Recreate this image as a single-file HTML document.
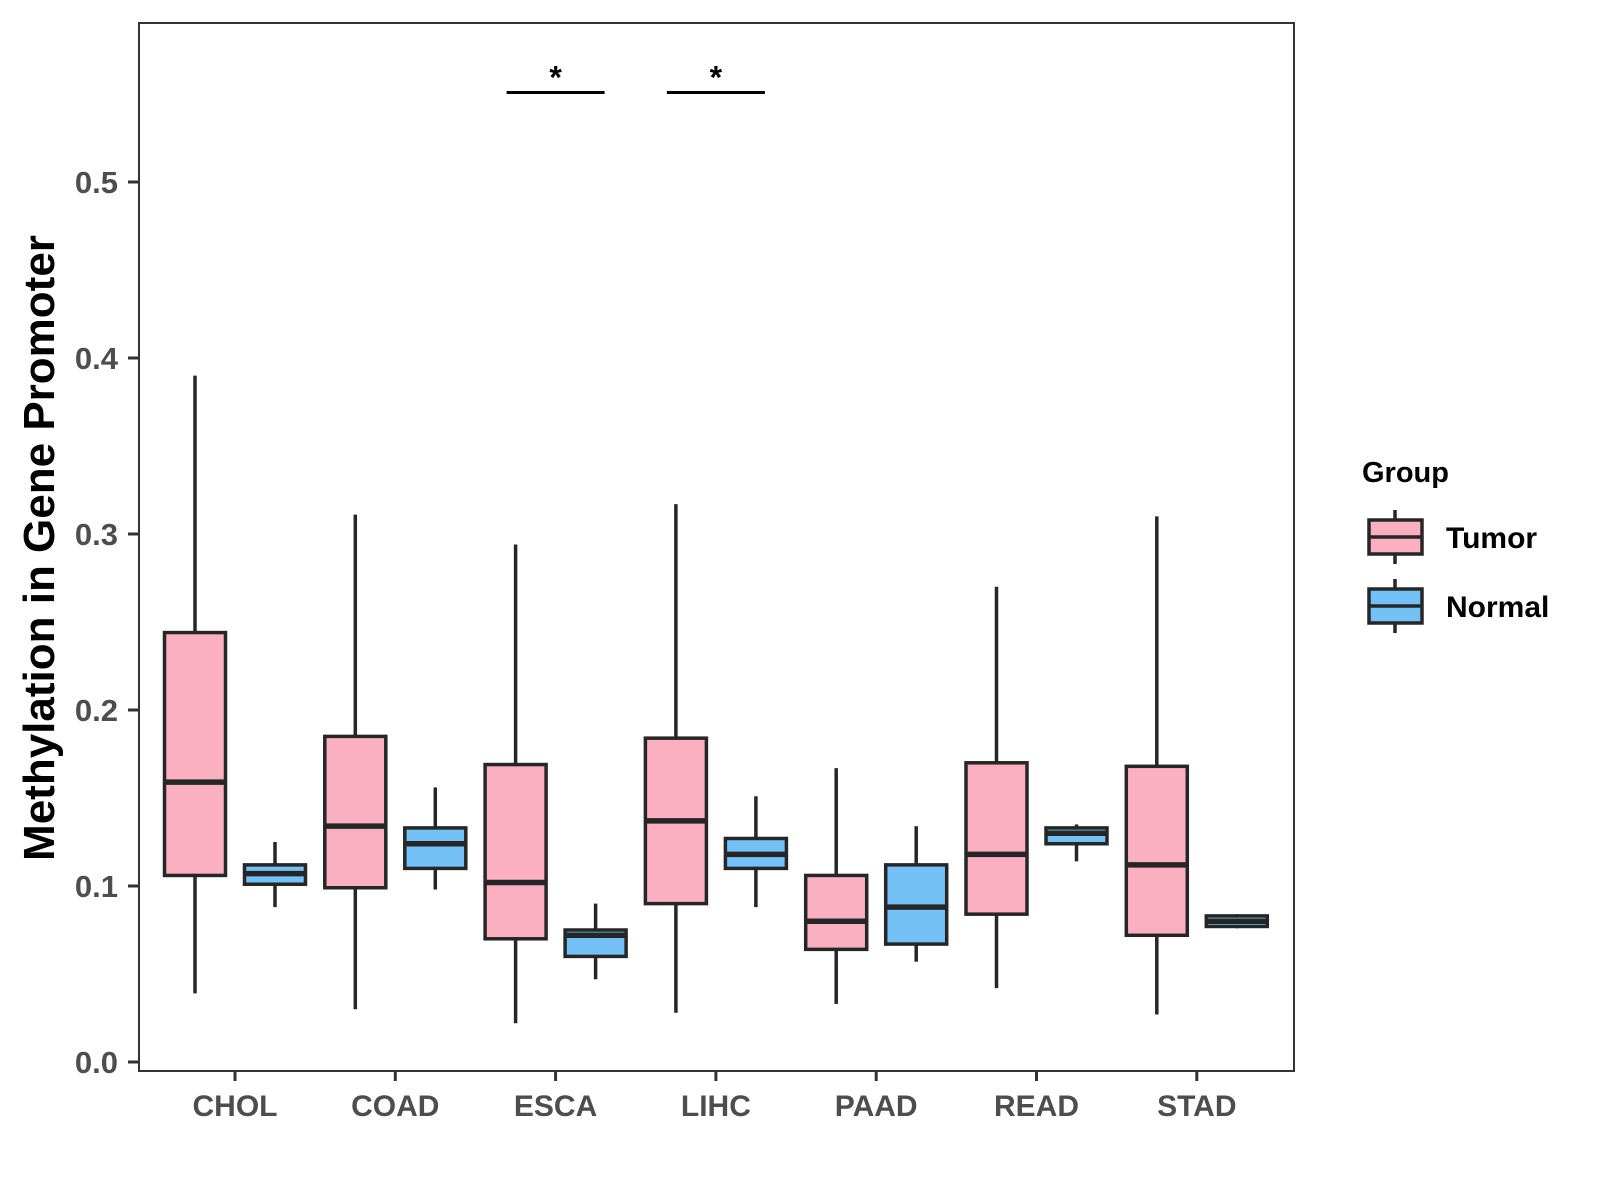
<!DOCTYPE html>
<html><head><meta charset="utf-8"><style>
html,body{margin:0;padding:0;background:#fff}
svg{display:block;font-family:"Liberation Sans",Arial,sans-serif}
</style></head><body>
<svg id="chart" width="1600" height="1200" viewBox="0 0 1600 1200"></svg>
<script>
const categories=["CHOL","COAD","ESCA","LIHC","PAAD","READ","STAD"];
const tumorLow=[0.039,0.030,0.022,0.028,0.033,0.042,0.027];
const tumorQ1=[0.106,0.099,0.070,0.090,0.064,0.084,0.072];
const tumorMed=[0.159,0.134,0.102,0.137,0.080,0.118,0.112];
const tumorQ3=[0.244,0.185,0.169,0.184,0.106,0.170,0.168];
const tumorHigh=[0.390,0.311,0.294,0.317,0.167,0.270,0.310];
const normalLow=[0.088,0.098,0.047,0.088,0.057,0.114,0.076];
const normalQ1=[0.101,0.110,0.060,0.110,0.067,0.124,0.077];
const normalMed=[0.107,0.124,0.072,0.118,0.088,0.130,0.080];
const normalQ3=[0.112,0.133,0.075,0.127,0.112,0.133,0.083];
const normalHigh=[0.125,0.156,0.090,0.151,0.134,0.135,0.084];
const yTicks=[0.0,0.1,0.2,0.3,0.4,0.5];
const sigCats=["ESCA","LIHC"];
const sigLevel=0.552;

const NS="http://www.w3.org/2000/svg";
const svg=document.getElementById('chart');
const PL=139,PR=1294,PT=23,PB=1071;
function yS(v){return 1062-1760*v;}
function xS(i){return 235+160.3*i;}
function mk(tag,attrs,parent){const e=document.createElementNS(NS,tag);for(const k in attrs)e.setAttribute(k,attrs[k]);(parent||svg).appendChild(e);return e;}
const INK="#262626";

const panel=mk('rect',{x:PL,y:PT,width:PR-PL,height:PB-PT,fill:'#fff',stroke:'none'});



yTicks.forEach(t=>{
  const g=mk('g',{});
  
  
  mk('line',{x1:PL-11,x2:PL,y1:yS(t),y2:yS(t),stroke:'#333','stroke-width':3},g);
  const tx=mk('text',{x:PL-21,y:yS(t)+11,'text-anchor':'end','font-size':31,'font-weight':'bold',fill:'#4d4d4d'},g);
  tx.textContent=t.toFixed(1);
});
categories.forEach((c,i)=>{
  const g=mk('g',{});
  
  
  mk('line',{x1:xS(i),x2:xS(i),y1:PB,y2:PB+10,stroke:'#333','stroke-width':3},g);
  const tx=mk('text',{x:xS(i),y:1116,'text-anchor':'middle','font-size':30,'font-weight':'bold',fill:'#4d4d4d'},g);
  tx.textContent=c;
});

function box(cx,lo,q1,md,q3,hi,fill,name){
  const g=mk('g',{});
  
  
  const w=61;
  mk('line',{x1:cx,x2:cx,y1:yS(hi),y2:yS(q3),stroke:INK,'stroke-width':3.5},g);
  mk('line',{x1:cx,x2:cx,y1:yS(q1),y2:yS(lo),stroke:INK,'stroke-width':3.5},g);
  mk('rect',{x:cx-w/2,y:yS(q3),width:w,height:yS(q1)-yS(q3),fill:fill,stroke:INK,'stroke-width':3.5},g);
  mk('line',{x1:cx-w/2,x2:cx+w/2,y1:yS(md),y2:yS(md),stroke:INK,'stroke-width':5.5},g);
}
categories.forEach((c,i)=>{
  box(xS(i)-40,tumorLow[i],tumorQ1[i],tumorMed[i],tumorQ3[i],tumorHigh[i],'#FBB0C2','box-tumor-'+c.toLowerCase());
  box(xS(i)+40,normalLow[i],normalQ1[i],normalMed[i],normalQ3[i],normalHigh[i],'#74C1F8','box-normal-'+c.toLowerCase());
});
sigCats.forEach(c=>{
  const i=categories.indexOf(c);
  const g=mk('g',{});
  
  
  mk('line',{x1:xS(i)-49,x2:xS(i)+49,y1:yS(sigLevel)+2,y2:yS(sigLevel)+2,stroke:'#000','stroke-width':3},g);
  const s=mk('text',{x:xS(i),y:yS(sigLevel)-2,'text-anchor':'middle','font-size':32,'font-weight':'bold',fill:'#000'},g);
  s.textContent='*';
});
const border=mk('rect',{x:PL,y:PT,width:PR-PL,height:PB-PT,fill:'none',stroke:'#333','stroke-width':2});



const yt=mk('text',{x:0,y:0,transform:'translate(54,548) rotate(-90)','text-anchor':'middle','font-size':44,'font-weight':'bold',fill:'#000'});


yt.textContent='Methylation in Gene Promoter';

const lg=mk('g',{});


const lt=mk('text',{x:1362,y:482,'font-size':29,'font-weight':'bold',fill:'#000'},lg);
lt.textContent='Group';
[["Tumor","#FBB0C2",537],["Normal","#74C1F8",606]].forEach(([lab,col,cy])=>{
  const e=mk('g',{},lg);
  
  
  mk('line',{x1:1395,x2:1395,y1:cy-27,y2:cy+27,stroke:INK,'stroke-width':3.5},e);
  mk('rect',{x:1369,y:cy-17,width:53,height:34,fill:col,stroke:INK,'stroke-width':3.5},e);
  mk('line',{x1:1369,x2:1422,y1:cy,y2:cy,stroke:INK,'stroke-width':3.5},e);
  const t=mk('text',{x:1446,y:cy+11,'font-size':30,'font-weight':'bold',fill:'#000'},e);
  t.textContent=lab;
});
</script>
</body></html>
